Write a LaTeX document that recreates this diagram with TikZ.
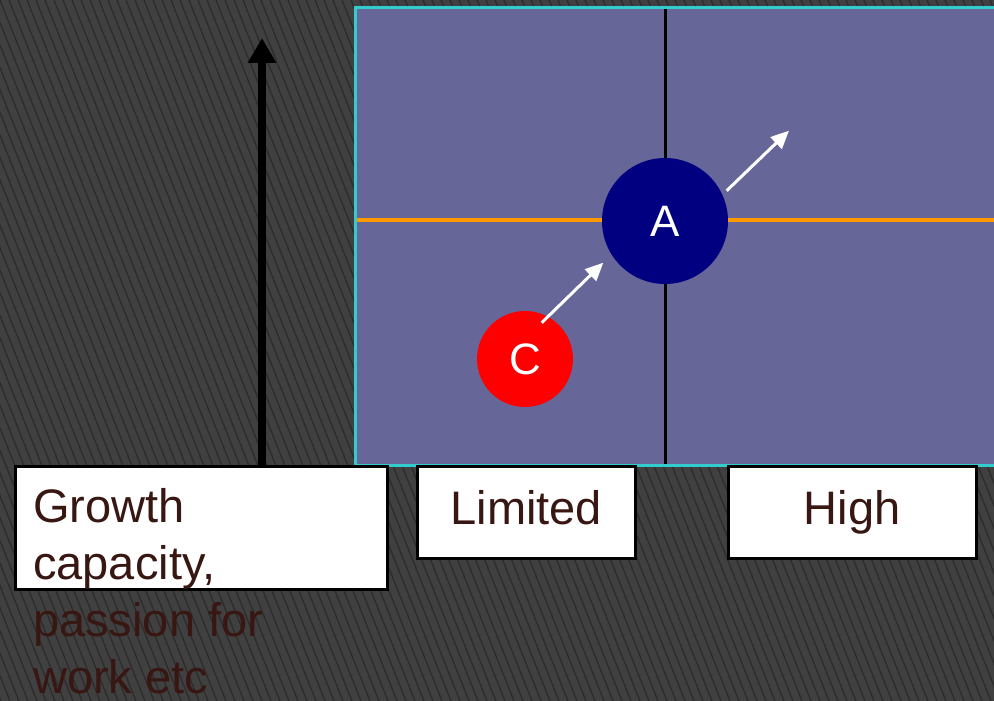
\documentclass[tikz,border=0pt]{standalone}
\usepackage{fontspec}
\setmainfont{Liberation Sans}
\usetikzlibrary{arrows.meta,positioning}
\definecolor{slate}{RGB}{102,102,153}
\definecolor{edgecyan}{RGB}{51,204,204}
\definecolor{midorange}{RGB}{255,153,0}
\definecolor{inkbrown}{RGB}{56,22,18}
\definecolor{bggray}{RGB}{64,64,64}
\definecolor{hatchgray}{RGB}{44,44,44}
\definecolor{navyA}{RGB}{0,0,128}
\begin{document}
\begin{tikzpicture}[x=1pt,y=-1pt,
 labelbox/.style={draw=black,line width=2.5pt,fill=white,inner sep=0pt,anchor=north west},
 labeltext/.style={text=inkbrown,font=\fontsize{47}{57}\selectfont},
 disc/.style={circle,inner sep=0pt,text=white,font=\fontsize{44}{50}\selectfont},
 move/.style={white,line width=3pt,-{Triangle[length=18pt,width=16pt]}}]
\clip (0,0) rectangle (994,701);
\fill[bggray] (0,0) rectangle (994,701);
\foreach \k in {-32,...,111}
 \draw[hatchgray,line width=1.3pt] (\k*9,0) -- (\k*9+280,701);
% the matrix
\fill[slate] (355,8) rectangle (1000,465);
\draw[midorange,line width=3.2pt] (355,220) -- (994,220);
\draw[line width=3pt] (665,8) -- (665,465);
\draw[edgecyan,line width=3pt] (1000,8) -- (355,8) -- (355,465) -- (1000,465);
% positions
\node[disc,fill=navyA,minimum size=126] (A) at (665,221) {A};
\node[disc,fill=red,minimum size=96] (C) at (525,359) {C};
\coordinate (c1) at (541.7,322.7);
\coordinate (c2) at (603.3,262.7);
\coordinate (a1) at (726.7,190.7);
\coordinate (a2) at (789,130.7);
\draw[move] (c1) -- (c2);
\draw[move] (a1) -- (a2);
% vertical axis
\coordinate (ybase) at (262,465);
\coordinate (ytip) at (262,38);
\draw[line width=8pt,-{Triangle[length=25pt,width=27pt]}] (ybase) -- (ytip);
\node[labelbox,minimum width=372,minimum height=123] (ybox) at (14,465) {};
\node[labeltext,align=left,anchor=north west,inner sep=0pt] (ylabel) at (33,488) {Growth\\capacity,\\passion for\\work etc};
% horizontal axis
\node[labelbox,labeltext,text height=36pt,text depth=12pt,minimum width=218,minimum height=92] (limited) at (416,465) {Limited};
\node[labelbox,labeltext,text height=36pt,text depth=12pt,minimum width=248,minimum height=92] (high) at (727,465) {High};
\end{tikzpicture}
\end{document}
